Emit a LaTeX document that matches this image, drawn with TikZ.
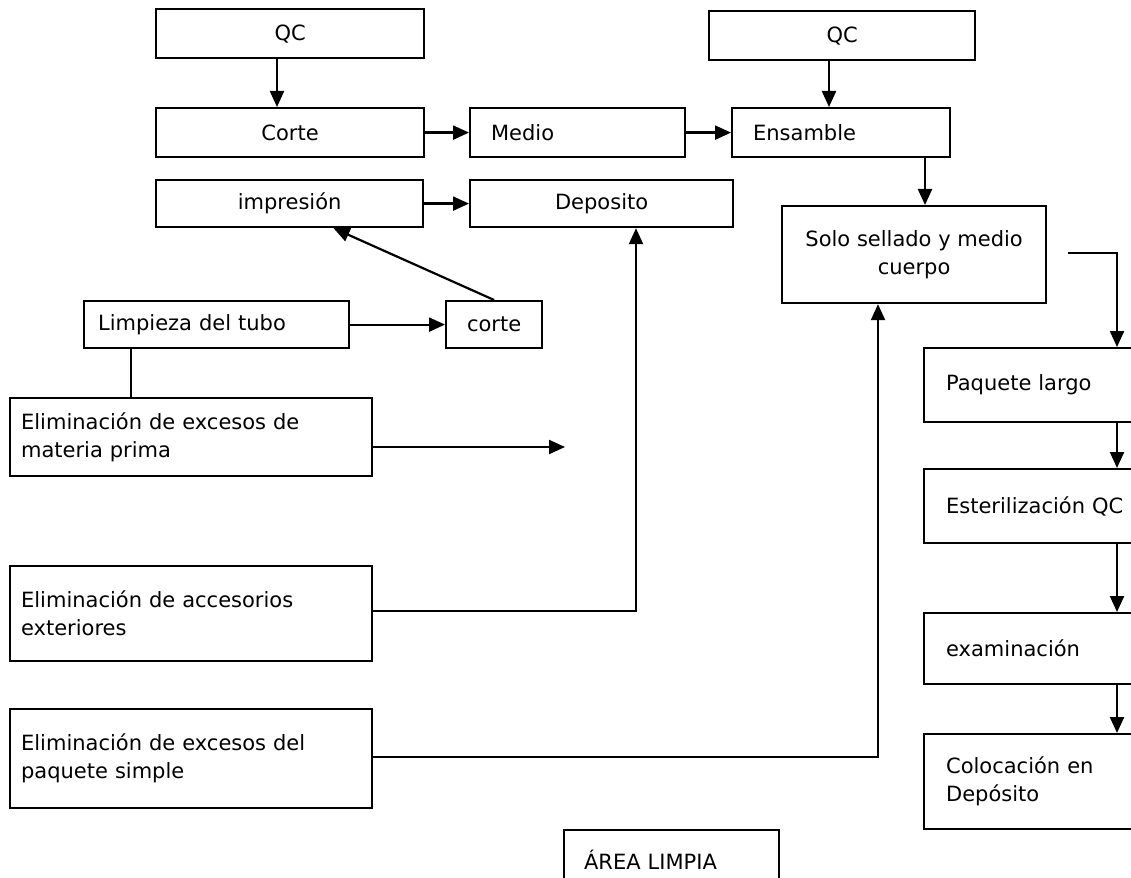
\documentclass[tikz,border=0pt]{standalone}
\usepackage{fontspec}
\setmainfont{DejaVu Sans}
\usetikzlibrary{arrows.meta}
\begin{document}
\begin{tikzpicture}[x=1pt,y=-1pt,
  box/.style={draw, line width=2.2pt, rectangle, inner sep=0pt, anchor=north west,
    font=\fontsize{21}{28}\selectfont},
  cbox/.style={box, align=center},
  lbox/.style={box, align=left},
  conn/.style={line width=2.2pt},
  arr/.style={conn, -{Triangle[length=16pt,width=14pt]}}]
\useasboundingbox (0,0) rectangle (1131,877);
\clip (0,0) rectangle (1131,877);
\fill[white] (0,0) rectangle (1131,877);
% top row
\node[cbox, minimum width=268pt, minimum height=49pt] (qc1) at (155,8) {QC};
\node[cbox, minimum width=268pt, minimum height=49pt] (cor) at (155,107) {Corte};
\node[lbox, text width=173pt, inner xsep=21pt, minimum height=49pt] (med) at (469,107) {Medio};
\node[cbox, minimum width=266pt, minimum height=49pt] (qc2) at (708,10) {QC};
\node[lbox, text width=176pt, inner xsep=21pt, minimum height=49pt] (ens) at (731,107) {Ensamble};
\node[cbox, minimum width=267pt, minimum height=47pt] (imp) at (155,179) {impresión};
\node[cbox, minimum width=263pt, minimum height=47pt] (dep) at (469,179) {Deposito};
\node[cbox, minimum width=264pt, minimum height=97pt] (solo) at (781,205) {Solo sellado y medio\\cuerpo};
\node[lbox, text width=237pt, inner xsep=14pt, minimum height=47pt] (lim) at (83,300) {Limpieza del tubo};
\node[cbox, minimum width=96pt, minimum height=47pt] (cor2) at (445,300) {corte};
% left column
\node[lbox, text width=340pt, inner xsep=11pt, minimum height=78pt] (e1) at (9,397) {Eliminación de excesos de\\materia prima};
\node[lbox, text width=340pt, inner xsep=11pt, minimum height=95pt] (e2) at (9,565) {Eliminación de accesorios\\exteriores};
\node[lbox, text width=340pt, inner xsep=11pt, minimum height=99pt] (e3) at (9,708) {Eliminación de excesos del\\paquete simple};
% right column
\node[lbox, text width=206pt, inner xsep=22pt, minimum height=74pt] (paq) at (923,347) {Paquete largo};
\node[lbox, text width=206pt, inner xsep=22pt, minimum height=74pt] (est) at (923,468) {Esterilización QC};
\node[lbox, text width=206pt, inner xsep=22pt, minimum height=71pt] (exa) at (923,612) {examinación};
\node[lbox, text width=206pt, inner xsep=22pt, minimum height=95pt] (col) at (923,733) {Colocación en\\Depósito};
% bottom label
\node[lbox, text width=175pt, inner xsep=20pt, minimum height=60pt] (area) at (563,829) {ÁREA LIMPIA};
% connectors
\coordinate (x1) at (277,0);
\coordinate (x2) at (829,0);
\coordinate (x3) at (925,0);
\draw[arr] (qc1.south -| x1) -- (cor.north -| x1);
\draw[arr] (qc2.south -| x2) -- (ens.north -| x2);
\draw[arr] (cor.east) -- (cor.east -| med.west);
\draw[arr] (med.east) -- (med.east -| ens.west);
\draw[arr] (ens.south -| x3) -- (solo.north -| x3);
\draw[arr] (imp.east) -- (imp.east -| dep.west);
\draw[arr] (lim.east) -- (lim.east -| cor2.west);
\draw[arr] (cor2.north) -- ([xshift=44pt]imp.south);
\coordinate (limd) at ([xshift=-85.5pt]lim.south);
\draw[conn] (limd) -- (limd |- e1.north);
\coordinate (e1end) at (565,447);
\draw[arr] (e1.east |- e1end) -- (e1end);
\coordinate (k2) at (636,611);
\draw[arr] (e2.east |- k2) -- (k2) -- (k2 |- dep.south);
\coordinate (k3) at (878,757);
\draw[arr] (e3.east |- k3) -- (k3) -- (k3 |- solo.south);
\coordinate (s1) at (1068,253);
\coordinate (s2) at (1117,253);
\draw[arr] (s1) -- (s2) -- (s2 |- paq.north);
\draw[arr] (paq.south -| s2) -- (est.north -| s2);
\draw[arr] (est.south -| s2) -- (exa.north -| s2);
\draw[arr] (exa.south -| s2) -- (col.north -| s2);
\end{tikzpicture}
\end{document}
